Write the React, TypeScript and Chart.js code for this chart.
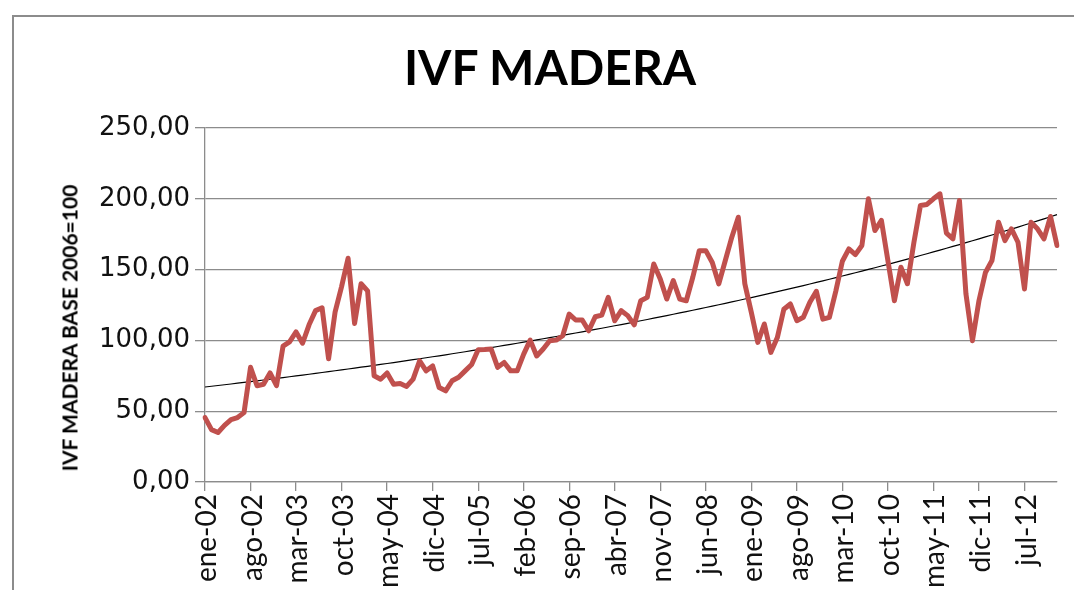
import React, { useEffect, useRef } from "react";
import { Chart, registerables } from "chart.js";

Chart.register(...registerables);

const monthNames = ["ene", "feb", "mar", "abr", "may", "jun", "jul", "ago", "sep", "oct", "nov", "dic"];
const years = ["02", "03", "04", "05", "06", "07", "08", "09", "10", "11", "12"];
const categories: string[] = [];
years.forEach((y) => monthNames.forEach((m) => categories.push(`${m}-${y}`)));

const tickLabels = [
  "ene-02", "ago-02", "mar-03", "oct-03", "may-04", "dic-04", "jul-05", "feb-06", "sep-06", "abr-07",
  "nov-07", "jun-08", "ene-09", "ago-09", "mar-10", "oct-10", "may-11", "dic-11", "jul-12",
];

const ivfValues = [
  45.5, 37, 35, 40, 44, 45.5, 49, 81, 68, 69, 77, 68,
  96, 99, 106, 98, 111, 121, 123, 87, 120, 138, 158, 112,
  140, 135, 75, 72.6, 77, 69, 69.6, 67.5, 72.6, 85.6, 78.5, 82,
  66.7, 64.4, 71.5, 74, 78.5, 83, 93.4, 93.5, 93.9, 81, 84.4, 78.5,
  78.5, 90.3, 100.2, 89, 93.9, 99.8, 100.2, 103.3, 118.6, 114.4, 114.4, 106.8,
  116.7, 117.9, 130.4, 113.9, 121, 117.5, 111, 128, 130.4, 154, 143.4, 129.2,
  142.2, 129.2, 128, 144.6, 163.4, 163.4, 155, 139.9, 156.4, 172.9, 187, 140,
  119.8, 98.6, 111.6, 91.5, 102, 122, 125.7, 113.9, 116.3, 126.9, 134.7, 115,
  116.3, 135, 155.9, 164.6, 160.6, 167, 200, 177.6, 184.7, 156.4, 128, 151.7,
  140, 169.3, 195.3, 196, 200, 203.5, 175.7, 171.7, 198.8, 132.8, 99.8, 128,
  148, 156.4, 183.5, 170.5, 178.8, 169.3, 136.3, 183.5, 178.8, 171.7, 187.5, 167,
];

const yTickValues = [0, 50, 100, 150, 200, 250];

// Exponential trendline (least squares on ln y), as the spreadsheet computes it
function expTrend(vals: number[]): number[] {
  const n = vals.length;
  let sx = 0, sy = 0, sxx = 0, sxy = 0;
  vals.forEach((v, i) => {
    const x = i + 1;
    const ly = Math.log(v);
    sx += x; sy += ly; sxx += x * x; sxy += x * ly;
  });
  const b = (n * sxy - sx * sy) / (n * sxx - sx * sx);
  const a = (sy - b * sx) / n;
  return vals.map((_, i) => Math.exp(a + b * (i + 1)));
}

const GRID = "#8c8c8c";

export default function App() {
  const ref = useRef<HTMLCanvasElement | null>(null);

  useEffect(() => {
    if (!ref.current) return;
    const trend = expTrend(ivfValues);
    const chart = new Chart(ref.current, {
      type: "line",
      data: {
        labels: categories,
        datasets: [
          {
            label: "IVF MADERA",
            data: ivfValues,
            borderColor: "#C0504D",
            borderWidth: 5,
            pointRadius: 0,
            tension: 0,
            borderJoinStyle: "round",
            borderCapStyle: "round",
          },
          {
            label: "Tendencia",
            data: trend,
            borderColor: "#000000",
            borderWidth: 1.2,
            pointRadius: 0,
            tension: 0,
          },
        ],
      },
      options: {
        animation: false,
        responsive: false,
        maintainAspectRatio: false,
        layout: { padding: { left: 0, top: 128, right: 17, bottom: 0 } },
        plugins: {
          legend: { display: false },
          tooltip: { enabled: false },
          title: { display: false },
        },
        scales: {
          x: {
            type: "category",
            offset: false,
            grid: {
              display: true,
              drawOnChartArea: false,
              drawTicks: true,
              tickLength: 9,
              color: GRID,
              lineWidth: 1.3,
            },
            border: { display: true, color: GRID, width: 1.3 },
            ticks: {
              autoSkip: false,
              maxRotation: 90,
              minRotation: 90,
              padding: 3,
              labelOffset: 2,
              color: "#111",
              font: { family: "Lato", size: 28 },
              callback: (_v: any, i: number) => (i % 7 === 0 ? tickLabels[i / 7] : null),
            },
            afterFit: (s: any) => {
              s.height = 590 - 482;
            },
          },
          y: {
            min: 0,
            max: 250,
            afterBuildTicks: (s: any) => {
              s.ticks = yTickValues.map((v) => ({ value: v }));
            },
            grid: { color: GRID, lineWidth: 1.3, tickLength: 10 },
            border: { display: true, color: GRID, width: 1.3 },
            ticks: {
              padding: 5,
              color: "#111",
              font: { family: "DejaVu Sans", size: 26 },
              callback: (v: any) => Number(v).toFixed(2).replace(".", ","),
            },
            afterFit: (s: any) => {
              s.width = 205;
            },
          },
        },
      },
    });
    return () => chart.destroy();
  }, []);

  return (
    <div
      style={{
        position: "fixed",
        left: 0,
        top: 0,
        width: 1074,
        height: 590,
        overflow: "hidden",
        background: "#fff",
      }}
    >
      <div
        style={{
          position: "absolute",
          left: 12,
          top: 15,
          width: 1200,
          height: 700,
          border: "2px solid #8c8c8c",
          boxSizing: "border-box",
        }}
      />
      <canvas ref={ref} width={1074} height={590} style={{ position: "absolute", left: 0, top: 0 }} />
      <div
        style={{
          position: "absolute",
          left: 0,
          width: 1100,
          top: 43,
          textAlign: "center",
          fontFamily: "Lato",
          fontWeight: 700,
          fontSize: 48,
          lineHeight: "48px",
          color: "#000",
        }}
      >
        IVF MADERA
      </div>
      <div
        style={{
          position: "absolute",
          left: 69,
          top: 328,
          transform: "translate(-50%, -50%) rotate(-90deg)",
          whiteSpace: "nowrap",
          fontFamily: "Lato",
          fontWeight: 700,
          fontSize: 21,
          color: "#000",
        }}
      >
        IVF MADERA BASE 2006=100
      </div>
    </div>
  );
}
